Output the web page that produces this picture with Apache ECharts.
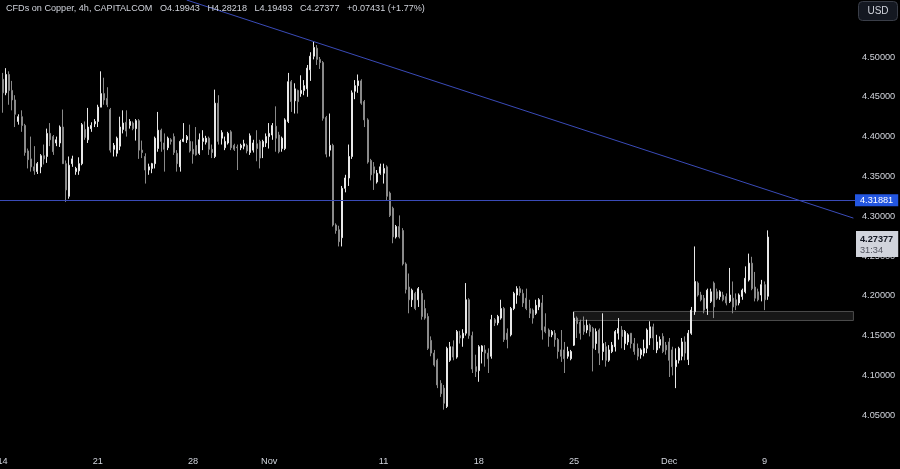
<!DOCTYPE html>
<html>
<head>
<meta charset="utf-8">
<script src="https://cdn.jsdelivr.net/npm/echarts@6.0.0/dist/echarts.min.js"></script>
<style>
html,body{margin:0;padding:0;background:#000;}
#chart{width:900px;height:469px;}
</style>
</head>
<body>
<div id="chart"></div>
<script>
// ---- time axis ----
const weekStarts = ['2024-10-14','2024-10-21','2024-10-28','2024-11-04','2024-11-11','2024-11-18','2024-11-25','2024-12-02','2024-12-09'];
const barHours = [0,4,8,12,16,20];
const leadingBar = '2024-10-11 20:00';
const tickDates = ['2024-10-14','2024-10-21','2024-10-28','2024-11-01','2024-11-11','2024-11-18','2024-11-25','2024-12-02','2024-12-09'];
const tickTexts = ['14','21','28','Nov','11','18','25','Dec','9'];
const yTickMin = 4.05, yTickMax = 4.50;

// ---- candles [open, close, low, high] ----
const preBars = [[4.500,4.505,4.495,4.512]];
const wkOct14 = [
[4.472,4.455,4.430,4.480],[4.455,4.478,4.452,4.486],[4.478,4.458,4.440,4.482],[4.458,4.446,4.433,4.470],
[4.446,4.428,4.412,4.452],[4.419,4.425,4.415,4.428],[4.425,4.414,4.406,4.433],[4.414,4.380,4.376,4.416],
[4.382,4.371,4.360,4.385],[4.372,4.362,4.356,4.400],[4.362,4.357,4.352,4.388],[4.356,4.366,4.353,4.368],
[4.362,4.376,4.354,4.378],[4.376,4.372,4.365,4.390],[4.375,4.404,4.367,4.410],[4.404,4.396,4.388,4.417],
[4.400,4.381,4.377,4.402],[4.392,4.396,4.388,4.400],[4.392,4.412,4.387,4.414],[4.412,4.366,4.366,4.434],
[4.366,4.333,4.318,4.370],[4.325,4.364,4.322,4.375],[4.366,4.372,4.362,4.376],[4.356,4.360,4.352,4.362],
[4.357,4.366,4.352,4.374],[4.366,4.415,4.364,4.417],[4.409,4.399,4.396,4.419],[4.396,4.412,4.392,4.436],
[4.410,4.414,4.406,4.418],[4.416,4.419,4.412,4.422]];
const wkOct21 = [
[4.419,4.437,4.412,4.440],[4.437,4.454,4.437,4.482],[4.454,4.446,4.440,4.474],[4.448,4.440,4.437,4.462],
[4.434,4.383,4.380,4.436],[4.384,4.389,4.375,4.392],[4.379,4.398,4.375,4.400],[4.388,4.412,4.383,4.425],
[4.409,4.417,4.404,4.433],[4.418,4.407,4.400,4.433],[4.414,4.419,4.410,4.422],[4.417,4.410,4.408,4.419],
[4.410,4.420,4.395,4.422],[4.420,4.383,4.372,4.422],[4.383,4.380,4.373,4.395],[4.375,4.358,4.341,4.379],
[4.358,4.362,4.352,4.366],[4.360,4.366,4.354,4.367],[4.366,4.398,4.360,4.400],[4.385,4.408,4.381,4.431],
[4.408,4.394,4.381,4.410],[4.392,4.384,4.356,4.404],[4.386,4.398,4.383,4.400],[4.396,4.394,4.390,4.398],
[4.400,4.380,4.377,4.404],[4.379,4.366,4.356,4.383],[4.362,4.394,4.356,4.396],[4.394,4.397,4.393,4.417],
[4.396,4.400,4.392,4.402],[4.394,4.382,4.380,4.415]];
const wkOct28 = [
[4.384,4.378,4.366,4.394],[4.389,4.377,4.376,4.412],[4.379,4.396,4.377,4.404],[4.394,4.398,4.383,4.408],
[4.393,4.398,4.390,4.401],[4.398,4.384,4.377,4.400],[4.384,4.380,4.373,4.390],[4.375,4.442,4.373,4.459],
[4.442,4.394,4.390,4.452],[4.398,4.405,4.390,4.408],[4.386,4.394,4.383,4.400],[4.392,4.404,4.390,4.406],
[4.406,4.386,4.383,4.408],[4.389,4.384,4.382,4.391],[4.387,4.386,4.358,4.390],[4.386,4.389,4.383,4.391],
[4.388,4.391,4.384,4.396],[4.389,4.382,4.379,4.391],[4.380,4.401,4.377,4.404],[4.383,4.392,4.380,4.396],
[4.391,4.385,4.369,4.408],[4.394,4.373,4.360,4.396],[4.387,4.394,4.373,4.396],[4.392,4.400,4.387,4.404],
[4.400,4.404,4.385,4.417],[4.402,4.414,4.396,4.417],[4.413,4.398,4.381,4.438],[4.402,4.381,4.379,4.406],
[4.385,4.398,4.381,4.400],[4.385,4.421,4.383,4.423]];
const wkNov04 = [
[4.419,4.469,4.417,4.480],[4.469,4.444,4.431,4.471],[4.445,4.460,4.429,4.467],[4.458,4.444,4.429,4.459],
[4.454,4.458,4.450,4.477],[4.458,4.464,4.452,4.471],[4.460,4.486,4.450,4.490],[4.484,4.501,4.470,4.506],
[4.501,4.512,4.497,4.519],[4.511,4.497,4.490,4.515],[4.497,4.493,4.485,4.500],[4.493,4.423,4.420,4.495],
[4.424,4.378,4.374,4.426],[4.383,4.389,4.375,4.429],[4.389,4.289,4.287,4.391],[4.289,4.282,4.278,4.291],
[4.283,4.268,4.262,4.288],[4.273,4.335,4.262,4.338],[4.335,4.348,4.330,4.352],[4.348,4.375,4.338,4.390],
[4.375,4.455,4.372,4.458],[4.457,4.464,4.447,4.471],[4.464,4.470,4.455,4.478],[4.470,4.442,4.440,4.472],
[4.444,4.421,4.412,4.446],[4.421,4.368,4.366,4.423],[4.370,4.352,4.345,4.372],[4.362,4.354,4.333,4.368],
[4.343,4.354,4.341,4.358],[4.354,4.362,4.352,4.366]];
const wkNov11 = [
[4.354,4.360,4.341,4.366],[4.362,4.325,4.320,4.364],[4.329,4.301,4.299,4.331],[4.310,4.274,4.266,4.312],
[4.274,4.287,4.272,4.289],[4.287,4.274,4.272,4.301],[4.282,4.240,4.238,4.285],[4.240,4.208,4.203,4.242],
[4.211,4.195,4.178,4.228],[4.195,4.207,4.186,4.209],[4.203,4.184,4.182,4.205],[4.195,4.209,4.186,4.211],
[4.203,4.174,4.170,4.207],[4.184,4.172,4.170,4.195],[4.174,4.134,4.132,4.178],[4.144,4.128,4.124,4.149],
[4.128,4.113,4.111,4.132],[4.119,4.088,4.084,4.121],[4.090,4.077,4.073,4.094],[4.084,4.065,4.057,4.088],
[4.061,4.134,4.059,4.136],[4.119,4.136,4.117,4.142],[4.136,4.123,4.119,4.144],[4.123,4.155,4.121,4.157],
[4.150,4.147,4.140,4.156],[4.147,4.153,4.136,4.158],[4.153,4.195,4.150,4.216],[4.195,4.150,4.146,4.197],
[4.150,4.108,4.103,4.155],[4.111,4.105,4.098,4.126]];
const wkNov18 = [
[4.106,4.136,4.092,4.138],[4.130,4.137,4.115,4.138],[4.132,4.128,4.111,4.138],[4.128,4.121,4.103,4.134],
[4.124,4.170,4.121,4.176],[4.170,4.166,4.162,4.172],[4.166,4.174,4.163,4.176],[4.172,4.184,4.170,4.195],
[4.184,4.145,4.142,4.186],[4.153,4.145,4.134,4.159],[4.151,4.184,4.149,4.186],[4.184,4.203,4.182,4.205],
[4.201,4.209,4.190,4.212],[4.209,4.204,4.200,4.212],[4.203,4.191,4.186,4.208],[4.197,4.184,4.182,4.209],
[4.184,4.178,4.172,4.195],[4.182,4.172,4.165,4.184],[4.178,4.188,4.176,4.195],[4.186,4.195,4.182,4.197],
[4.191,4.157,4.145,4.201],[4.161,4.155,4.153,4.178],[4.157,4.149,4.136,4.159],[4.151,4.155,4.148,4.157],
[4.153,4.145,4.136,4.157],[4.145,4.130,4.121,4.147],[4.132,4.124,4.117,4.157],[4.132,4.121,4.103,4.142],
[4.124,4.130,4.121,4.136],[4.121,4.130,4.119,4.132]];
const wkNov25 = [
[4.138,4.172,4.137,4.180],[4.172,4.165,4.147,4.174],[4.167,4.153,4.145,4.170],[4.163,4.155,4.151,4.174],
[4.157,4.163,4.153,4.170],[4.163,4.155,4.149,4.165],[4.159,4.134,4.105,4.161],[4.140,4.155,4.132,4.159],
[4.157,4.128,4.113,4.159],[4.130,4.140,4.119,4.178],[4.136,4.119,4.111,4.142],[4.119,4.132,4.117,4.138],
[4.130,4.138,4.128,4.142],[4.136,4.155,4.130,4.157],[4.153,4.159,4.145,4.172],[4.157,4.149,4.134,4.162],
[4.140,4.155,4.132,4.157],[4.142,4.151,4.138,4.153],[4.153,4.140,4.134,4.153],[4.140,4.130,4.126,4.147],
[4.134,4.124,4.119,4.140],[4.126,4.132,4.121,4.134],[4.128,4.134,4.124,4.145],[4.134,4.157,4.128,4.159],
[4.147,4.161,4.138,4.168],[4.161,4.147,4.132,4.165],[4.132,4.142,4.128,4.151],[4.138,4.145,4.134,4.149],
[4.149,4.130,4.128,4.153],[4.138,4.132,4.126,4.142]];
const wkDec02 = [
[4.142,4.119,4.098,4.147],[4.132,4.111,4.100,4.136],[4.111,4.119,4.084,4.134],[4.119,4.134,4.115,4.136],
[4.124,4.142,4.119,4.147],[4.142,4.128,4.119,4.149],[4.120,4.153,4.113,4.157],[4.153,4.182,4.151,4.186],
[4.180,4.218,4.176,4.262],[4.216,4.201,4.199,4.218],[4.201,4.195,4.193,4.205],[4.197,4.182,4.178,4.201],
[4.184,4.207,4.176,4.209],[4.193,4.205,4.191,4.209],[4.216,4.186,4.172,4.218],[4.205,4.197,4.195,4.209],
[4.199,4.205,4.195,4.207],[4.201,4.195,4.193,4.205],[4.199,4.191,4.188,4.203],[4.193,4.201,4.191,4.235],
[4.197,4.186,4.178,4.218],[4.195,4.188,4.182,4.203],[4.191,4.201,4.188,4.203],[4.199,4.207,4.195,4.209],
[4.205,4.222,4.203,4.237],[4.220,4.241,4.218,4.253],[4.241,4.209,4.207,4.249],[4.211,4.197,4.193,4.230],
[4.205,4.195,4.193,4.209],[4.201,4.214,4.193,4.220]];
const wkDec09 = [[4.214,4.195,4.182,4.218],[4.19943,4.27377,4.19493,4.28218]];

// ---- drawings ----
const levelPrice = 4.31881;
const zoneTop = 4.1803, zoneBottom = 4.1690;
const zoneFrom = '2024-11-25 00:00', zoneTo = '2024-12-13 16:00';
const trendFrom = ['2024-10-25 16:00', 4.5716];
const trendTo = ['2024-12-13 16:00', 4.2976];
const countdown = '31:34';
const prevClose = 4.19946;

// ---- build categories ----
const pad = n => String(n).padStart(2, '0');
let cats = [leadingBar];
weekStarts.forEach(ws => {
  const base = new Date(ws + 'T00:00:00Z').getTime();
  for (let d = 0; d < 5; d++) {
    const ds = new Date(base + d * 86400000).toISOString().slice(0, 10);
    barHours.forEach(h => cats.push(ds + ' ' + pad(h) + ':00'));
  }
});
cats = cats.slice(0, 270);
const tickMap = {};
tickDates.forEach((d, i) => { tickMap[d + ' 00:00'] = tickTexts[i]; });

const bars = [].concat(preBars, wkOct14, wkOct21, wkOct28, wkNov04, wkNov11, wkNov18, wkNov25, wkDec02, wkDec09);
const last = bars[bars.length - 1];
const chg = last[1] - prevClose;

const FONT = 'Liberation Sans, Arial, sans-serif';
const TXT = '#d1d4dc';
const LINE = '#3a4bb8';

const chart = echarts.init(document.getElementById('chart'), null, {renderer: 'canvas'});
chart.setOption({
  backgroundColor: '#000000',
  animation: false,
  textStyle: {fontFamily: FONT},
  title: {
    text: 'CFDs on Copper, 4h, CAPITALCOM   O' + last[0].toFixed(5) + '   H' + last[3].toFixed(5) +
          '   L' + last[2].toFixed(5) + '   C' + last[1].toFixed(5) + '   +' + chg.toFixed(5) +
          ' (+' + (chg / prevClose * 100).toFixed(2) + '%)',
    left: 6, top: 4, padding: 0,
    textStyle: {color: TXT, fontSize: 9.1, fontWeight: 'normal', fontFamily: FONT}
  },
  grid: {left: -2.26, right: 45, top: -22.6, bottom: 14, containLabel: false, outerBoundsMode: 'none'},
  xAxis: {
    type: 'category', data: cats, boundaryGap: true,
    axisLine: {show: false}, axisTick: {show: false}, splitLine: {show: false},
    axisLabel: {
      color: TXT, fontSize: 9.2, fontFamily: FONT, margin: 2,
      interval: (idx, val) => tickMap[val] !== undefined,
      formatter: val => tickMap[val] || ''
    }
  },
  yAxis: {
    type: 'value', position: 'right', min: 4.0, max: 4.6, interval: 0.05, scale: true,
    axisLine: {show: false}, axisTick: {show: false}, splitLine: {show: false},
    axisLabel: {
      color: TXT, fontSize: 9.2, fontFamily: FONT, margin: 7,
      formatter: v => (v > yTickMin - 0.001 && v < yTickMax + 0.001) ? v.toFixed(5) : ''
    }
  },
  graphic: [{
    type: 'group', right: 2, top: 1,
    children: [
      {type: 'rect', shape: {x: 0, y: 0, width: 39, height: 19, r: 4}, style: {fill: '#141821', stroke: '#3a3e48', lineWidth: 1}},
      {type: 'text', x: 19.5, y: 9.5, style: {text: 'USD', fill: TXT, font: '10px ' + FONT, align: 'center', verticalAlign: 'middle'}}
    ]
  }],
  series: [{
    type: 'candlestick',
    data: bars,
    clip: false,
    barWidth: 1.5,
    itemStyle: {color: '#e8e8e8', color0: '#8a8a8a', borderColor: '#e8e8e8', borderColor0: '#8a8a8a', borderWidth: 1},
    markArea: {
      silent: true,
      itemStyle: {color: '#171717', borderColor: '#4d4d4d', borderWidth: 1},
      data: [[{coord: [zoneFrom, zoneTop]}, {coord: [zoneTo, zoneBottom]}]]
    },
    markLine: {
      silent: true, symbol: ['none', 'none'], animation: false,
      data: [
        {
          yAxis: levelPrice,
          lineStyle: {color: LINE, width: 1, type: 'solid'},
          label: {show: true, position: 'end', distance: 0, formatter: levelPrice.toFixed(5),
                  color: '#ffffff', backgroundColor: '#2356e0', padding: [2, 5, 1, 5], fontSize: 9.2, fontFamily: FONT}
        },
        {
          yAxis: last[1],
          lineStyle: {color: 'rgba(0,0,0,0)', width: 1},
          label: {show: true, position: 'end', distance: 1, offset: [0, 4],
                  formatter: '{p|' + last[1].toFixed(5) + '}\n{t|' + countdown + '}',
                  backgroundColor: '#d1d4dc', padding: [2, 5, 1, 4],
                  rich: {p: {color: '#131722', fontSize: 9.2, fontWeight: 'bold', lineHeight: 12, fontFamily: FONT},
                         t: {color: '#50535e', fontSize: 9.2, lineHeight: 11, fontFamily: FONT}}}
        },
        [
          {coord: trendFrom, lineStyle: {color: LINE, width: 1, type: 'solid'}, label: {show: false}},
          {coord: trendTo}
        ]
      ]
    }
  }]
});
</script>
</body>
</html>
